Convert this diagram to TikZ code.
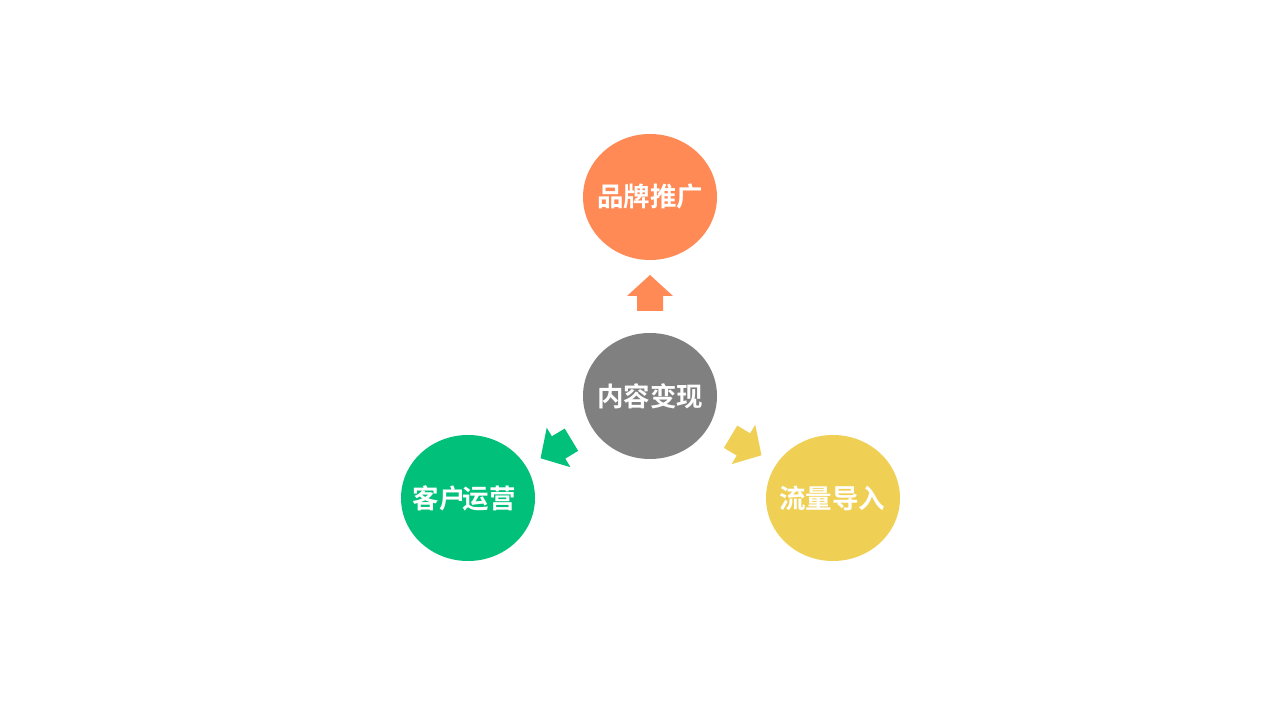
\documentclass[tikz,border=0pt]{standalone}
\usepackage{fontspec}
\newfontfamily\cjk{Noto Sans CJK SC Bold}
\definecolor{corange}{HTML}{FF8A56}
\definecolor{cgrey}{HTML}{808080}
\definecolor{cgreen}{HTML}{00C07A}
\definecolor{cyellow}{HTML}{EFD055}
\tikzset{
  bubble/.style={ellipse, minimum width=134pt, minimum height=126pt, inner sep=0pt, outer sep=0pt},
  bubbletext/.style={inner sep=0pt, text=white, font=\cjk\fontsize{26.5}{30}\selectfont},
  blockarrow/.pic={
    \fill[#1] (-13,-18) -- (13,-18) -- (13,-3) -- (23,-3) -- (0,18) -- (-23,-3) -- (-13,-3) -- cycle;
  }
}
\usetikzlibrary{shapes.geometric}
\begin{document}
\begin{tikzpicture}[x=1pt,y=1pt]
\useasboundingbox[fill=white] (0,0) rectangle (1280,720);
\node[bubble, fill=corange] (top) at (650,523) {};
\node[bubble, fill=cgrey] (mid) at (650,324) {};
\node[bubble, fill=cgreen] (left) at (468,222) {};
\node[bubble, fill=cyellow] (right) at (833,222) {};
\node[bubbletext] (toptext) at (top.center) {品牌推广};
\node[bubbletext] (midtext) at (mid.center) {内容变现};
\node[bubbletext] (lefttext) at ([xshift=-4pt]left.center) {客户\kern-3pt 运营};
\node[bubbletext] (righttext) at ([xshift=-1pt]right.center) {流量导入};
\pic[rotate=0] at (650,427) {blockarrow=corange};
\pic[rotate=121] at (556,271) {blockarrow=cgreen};
\pic[rotate=-121] at (746,274) {blockarrow=cyellow};
\end{tikzpicture}
\end{document}
